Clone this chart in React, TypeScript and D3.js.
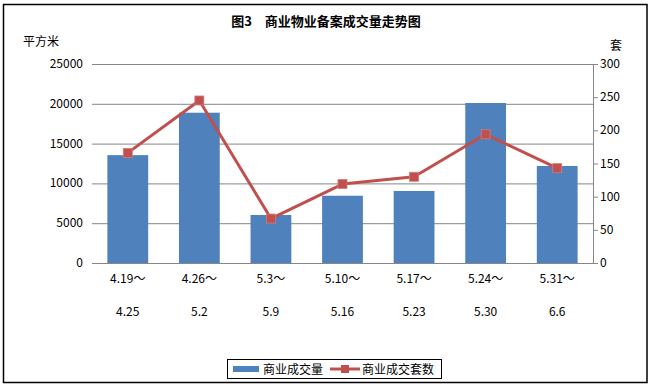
import { useMemo } from "react";
import * as d3 from "d3";

const W = 651;
const H = 386;
const PLOT = { left: 92, right: 593, top: 64, bottom: 263 };

const weeksFrom = ["4.19～", "4.26～", "5.3～", "5.10～", "5.17～", "5.24～", "5.31～"];
const weeksTo = ["4.25", "5.2", "5.9", "5.16", "5.23", "5.30", "6.6"];
const areaValues = [13550, 18880, 6030, 8450, 9050, 20100, 12190];
const unitValues = [166, 245, 67, 119, 130, 194, 143];
const leftTicks = [0, 5000, 10000, 15000, 20000, 25000];
const rightTicks = [0, 50, 100, 150, 200, 250, 300];

const BAR = "#4F81BD";
const LINE = "#C0504D";
const GRID = "#868686";
const FONT = "'Noto Sans CJK SC', 'Noto Sans', sans-serif";

export default function App() {
  const x = useMemo(
    () =>
      d3
        .scaleBand<number>()
        .domain(d3.range(weeksFrom.length))
        .range([PLOT.left, PLOT.right])
        .paddingInner(0.43)
        .paddingOuter(0.215),
    []
  );
  const yLeft = useMemo(
    () => d3.scaleLinear().domain([0, 25000]).range([PLOT.bottom, PLOT.top]),
    []
  );
  const yRight = useMemo(
    () => d3.scaleLinear().domain([0, 300]).range([PLOT.bottom, PLOT.top]),
    []
  );

  const cx = (i: number) => (x(i) as number) + x.bandwidth() / 2;
  const linePath = d3
    .line<number>()
    .x((_, i) => cx(i))
    .y((d) => yRight(d))(unitValues);

  return (
    <svg width={W} height={H} style={{ position: "absolute", left: 0, top: 0 }} fontFamily={FONT}>
      <rect x={0} y={0} width={W} height={H} fill="#fff" />
      <rect x={3.5} y={4.5} width={643.5} height={378} fill="none" stroke="#000" strokeWidth={1.5} />

      <text x={326} y={26} textAnchor="middle" fontSize={13} fontWeight="bold">
        图3　商业物业备案成交量走势图
      </text>
      <text x={23} y={46} fontSize={12}>平方米</text>
      <text x={610} y={50} fontSize={12}>套</text>

      {/* grid lines + left labels */}
      {leftTicks.map((t) => (
        <g key={t}>
          <line x1={PLOT.left} x2={PLOT.right} y1={yLeft(t) + 0.5} y2={yLeft(t) + 0.5} stroke={GRID} strokeWidth={1} />
          <text x={83} y={yLeft(t) + 4} textAnchor="end" fontSize={12}>{t}</text>
        </g>
      ))}

      {/* right axis */}
      <line x1={PLOT.right + 0.5} x2={PLOT.right + 0.5} y1={PLOT.top} y2={PLOT.bottom + 1} stroke={GRID} />
      {rightTicks.map((t) => (
        <g key={t}>
          <line x1={PLOT.right} x2={PLOT.right + 5} y1={yRight(t) + 0.5} y2={yRight(t) + 0.5} stroke={GRID} />
          <text x={600} y={yRight(t) + 4} fontSize={12}>{t}</text>
        </g>
      ))}

      {/* bars */}
      {areaValues.map((v, i) => (
        <rect
          key={i}
          x={x(i)}
          y={yLeft(v)}
          width={x.bandwidth()}
          height={PLOT.bottom - yLeft(v)}
          fill={BAR}
        />
      ))}
      <line x1={PLOT.left} x2={PLOT.right} y1={PLOT.bottom + 0.5} y2={PLOT.bottom + 0.5} stroke={GRID} />

      {/* line */}
      <path d={linePath ?? ""} fill="none" stroke={LINE} strokeWidth={3} strokeLinejoin="round" />
      {unitValues.map((v, i) => (
        <rect
          key={i}
          x={cx(i) - 4.5}
          y={yRight(v) - 4.5}
          width={9}
          height={9}
          fill={LINE}
          stroke="#D27C7A"
          strokeWidth={0.8}
        />
      ))}

      {/* category labels */}
      {weeksFrom.map((s, i) => (
        <g key={i}>
          <text x={cx(i)} y={283} textAnchor="middle" fontSize={12}>{s}</text>
          <text x={cx(i)} y={316} textAnchor="middle" fontSize={12}>{weeksTo[i]}</text>
        </g>
      ))}

      {/* legend */}
      <rect x={227.5} y={359.5} width={214} height={19} fill="#fff" stroke="#000" strokeWidth={1} />
      <rect x={233} y={366} width={26} height={6} fill={BAR} />
      <text x={263} y={373.5} fontSize={12}>商业成交量</text>
      <line x1={330} x2={360} y1={369} y2={369} stroke={LINE} strokeWidth={3} />
      <rect x={341} y={365} width={8} height={8} fill={LINE} />
      <text x={362} y={373.5} fontSize={12}>商业成交套数</text>
    </svg>
  );
}
